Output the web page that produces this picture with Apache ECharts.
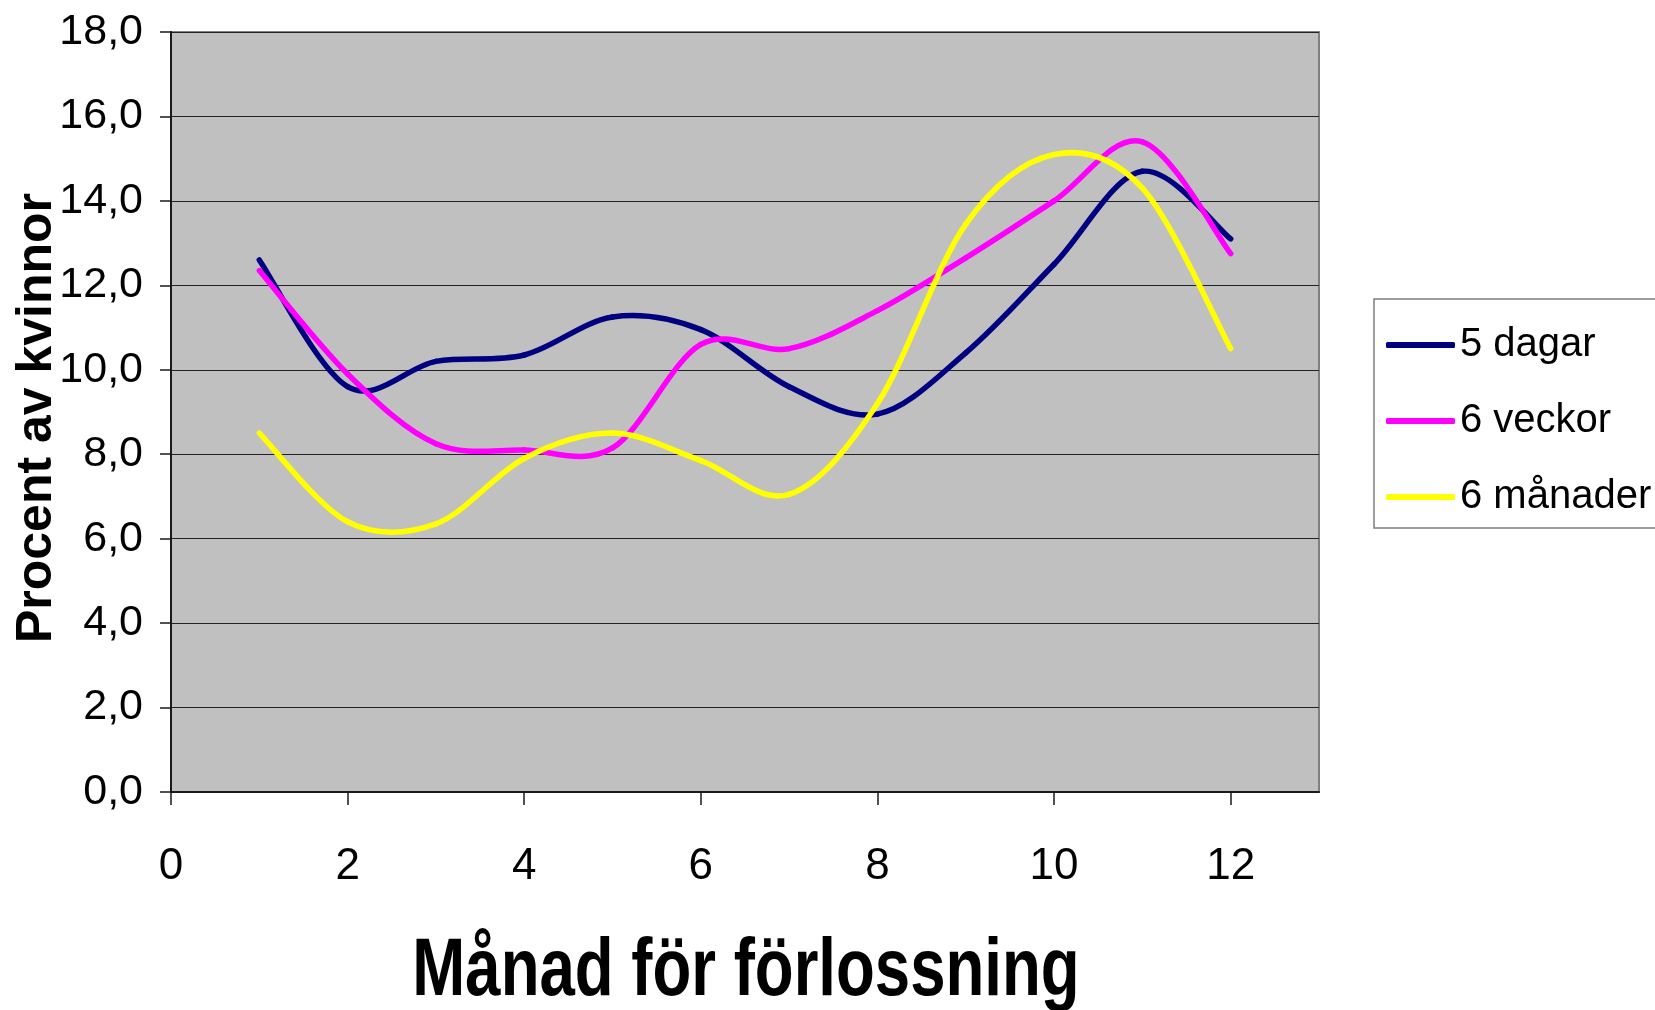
<!DOCTYPE html>
<html>
<head>
<meta charset="utf-8">
<script src="https://cdn.jsdelivr.net/npm/echarts@6/dist/echarts.min.js"></script>
<style>
  html, body { margin: 0; padding: 0; background: #fff; }
  #chart { width: 1655px; height: 1010px; }
</style>
</head>
<body>
<div id="chart"></div>
<script>
// monthly values
var months = [1, 2, 3, 4, 5, 6, 7, 8, 9, 10, 11, 12];
var dagar5 = [12.6, 9.6, 10.2, 10.35, 11.25, 10.95, 9.6, 8.95, 10.4, 12.5, 14.7, 13.1];
var veckor6 = [12.35, 9.9, 8.25, 8.1, 8.15, 10.6, 10.5, 11.4, 12.65, 14.0, 15.4, 12.75];
var manader6 = [8.5, 6.4, 6.35, 7.9, 8.5, 7.85, 7.05, 9.2, 13.45, 15.1, 14.3, 10.5];
var xTicks = [0, 2, 4, 6, 8, 10, 12];

var labelFont = "'Liberation Sans', Arial, sans-serif";

function pairs(vals) {
    return months.map(function (m, i) { return [m, vals[i]]; });
}

// excel style smoothed line: one bezier piece per data item, catmull-rom control points
function smoothLine(name, color, vals) {
    return {
        name: name,
        type: "custom",
        coordinateSystem: "cartesian2d",
        data: pairs(vals),
        itemStyle: { color: color },
        renderItem: function (params, api) {
            var i = params.dataIndex;
            var n = vals.length;
            if (i >= n - 1) return null;
            var p = function (k) {
                k = Math.max(0, Math.min(n - 1, k));
                return api.coord([months[k], vals[k]]);
            };
            var p0 = p(i - 1), p1 = p(i), p2 = p(i + 1), p3 = p(i + 2);
            return {
                type: "bezierCurve",
                silent: true,
                shape: {
                    x1: p1[0], y1: p1[1],
                    x2: p2[0], y2: p2[1],
                    cpx1: p1[0] + (p2[0] - p0[0]) / 6,
                    cpy1: p1[1] + (p2[1] - p0[1]) / 6,
                    cpx2: p2[0] - (p3[0] - p1[0]) / 6,
                    cpy2: p2[1] - (p3[1] - p1[1]) / 6
                },
                style: { stroke: color, fill: "none", lineWidth: 5.5, lineCap: "round", lineJoin: "round" }
            };
        }
    };
}

var chart = echarts.init(document.getElementById("chart"), null, { renderer: "canvas" });

chart.setOption({
    animation: false,
    backgroundColor: "#ffffff",
    grid: {
        left: 171, right: 336, top: 32, bottom: 218,
        containLabel: false,
        outerBoundsMode: "none",
        show: true,
        backgroundColor: "#c0c0c0",
        borderColor: "#808080",
        borderWidth: 2
    },
    legend: {
        orient: "vertical",
        left: 1374, top: 299,
        padding: [23, 40, 8, 12],
        itemGap: 30,
        itemWidth: 69,
        itemHeight: 6,
        icon: "roundRect",
        borderColor: "#7f7f7f",
        borderWidth: 1.5,
        backgroundColor: "#ffffff",
        textStyle: { fontFamily: labelFont, fontSize: 40, lineHeight: 46, color: "#000" },
        data: ["5 dagar", "6 veckor", "6 månader"]
    },
    // x axis title: narrow bold text, squeezed like the original
    graphic: [{
        type: "text",
        x: 746, y: 972,
        scaleX: 0.775,
        silent: true,
        style: {
            text: "Månad för förlossning",
            font: "bold 82px 'Liberation Sans', Arial, sans-serif",
            fill: "#000",
            align: "center",
            verticalAlign: "middle"
        }
    }],
    xAxis: {
        type: "value",
        min: 0, max: 13,
        interval: 2,
        splitLine: { show: false },
        axisLine: { lineStyle: { color: "#1a1a1a", width: 2 } },
        axisTick: { show: true, length: 13, customValues: xTicks, lineStyle: { color: "#1a1a1a", width: 1.5 } },
        axisLabel: { customValues: xTicks, margin: 53, fontFamily: labelFont, fontSize: 44, color: "#000" }
    },
    yAxis: {
        type: "value",
        min: 0, max: 18,
        interval: 2,
        name: "Procent av kvinnor",
        nameLocation: "middle",
        nameRotate: 90,
        nameGap: 109,
        nameMoveOverlap: false,
        nameTextStyle: { fontFamily: labelFont, fontSize: 50, fontWeight: "bold", color: "#000", padding: [0, 12, 0, 0] },
        splitLine: { show: true, lineStyle: { color: "#222", width: 1 } },
        axisLine: { show: true, lineStyle: { color: "#1a1a1a", width: 2 } },
        axisTick: { show: true, length: 11, lineStyle: { color: "#1a1a1a", width: 1.5 } },
        axisLabel: {
            margin: 28,
            fontFamily: labelFont, fontSize: 43, color: "#000",
            formatter: function (v) { return v.toFixed(1).replace(".", ","); }
        }
    },
    series: [
        smoothLine("5 dagar", "#000080", dagar5),
        smoothLine("6 veckor", "#ff00ff", veckor6),
        smoothLine("6 månader", "#ffff00", manader6)
    ]
});
</script>
</body>
</html>
